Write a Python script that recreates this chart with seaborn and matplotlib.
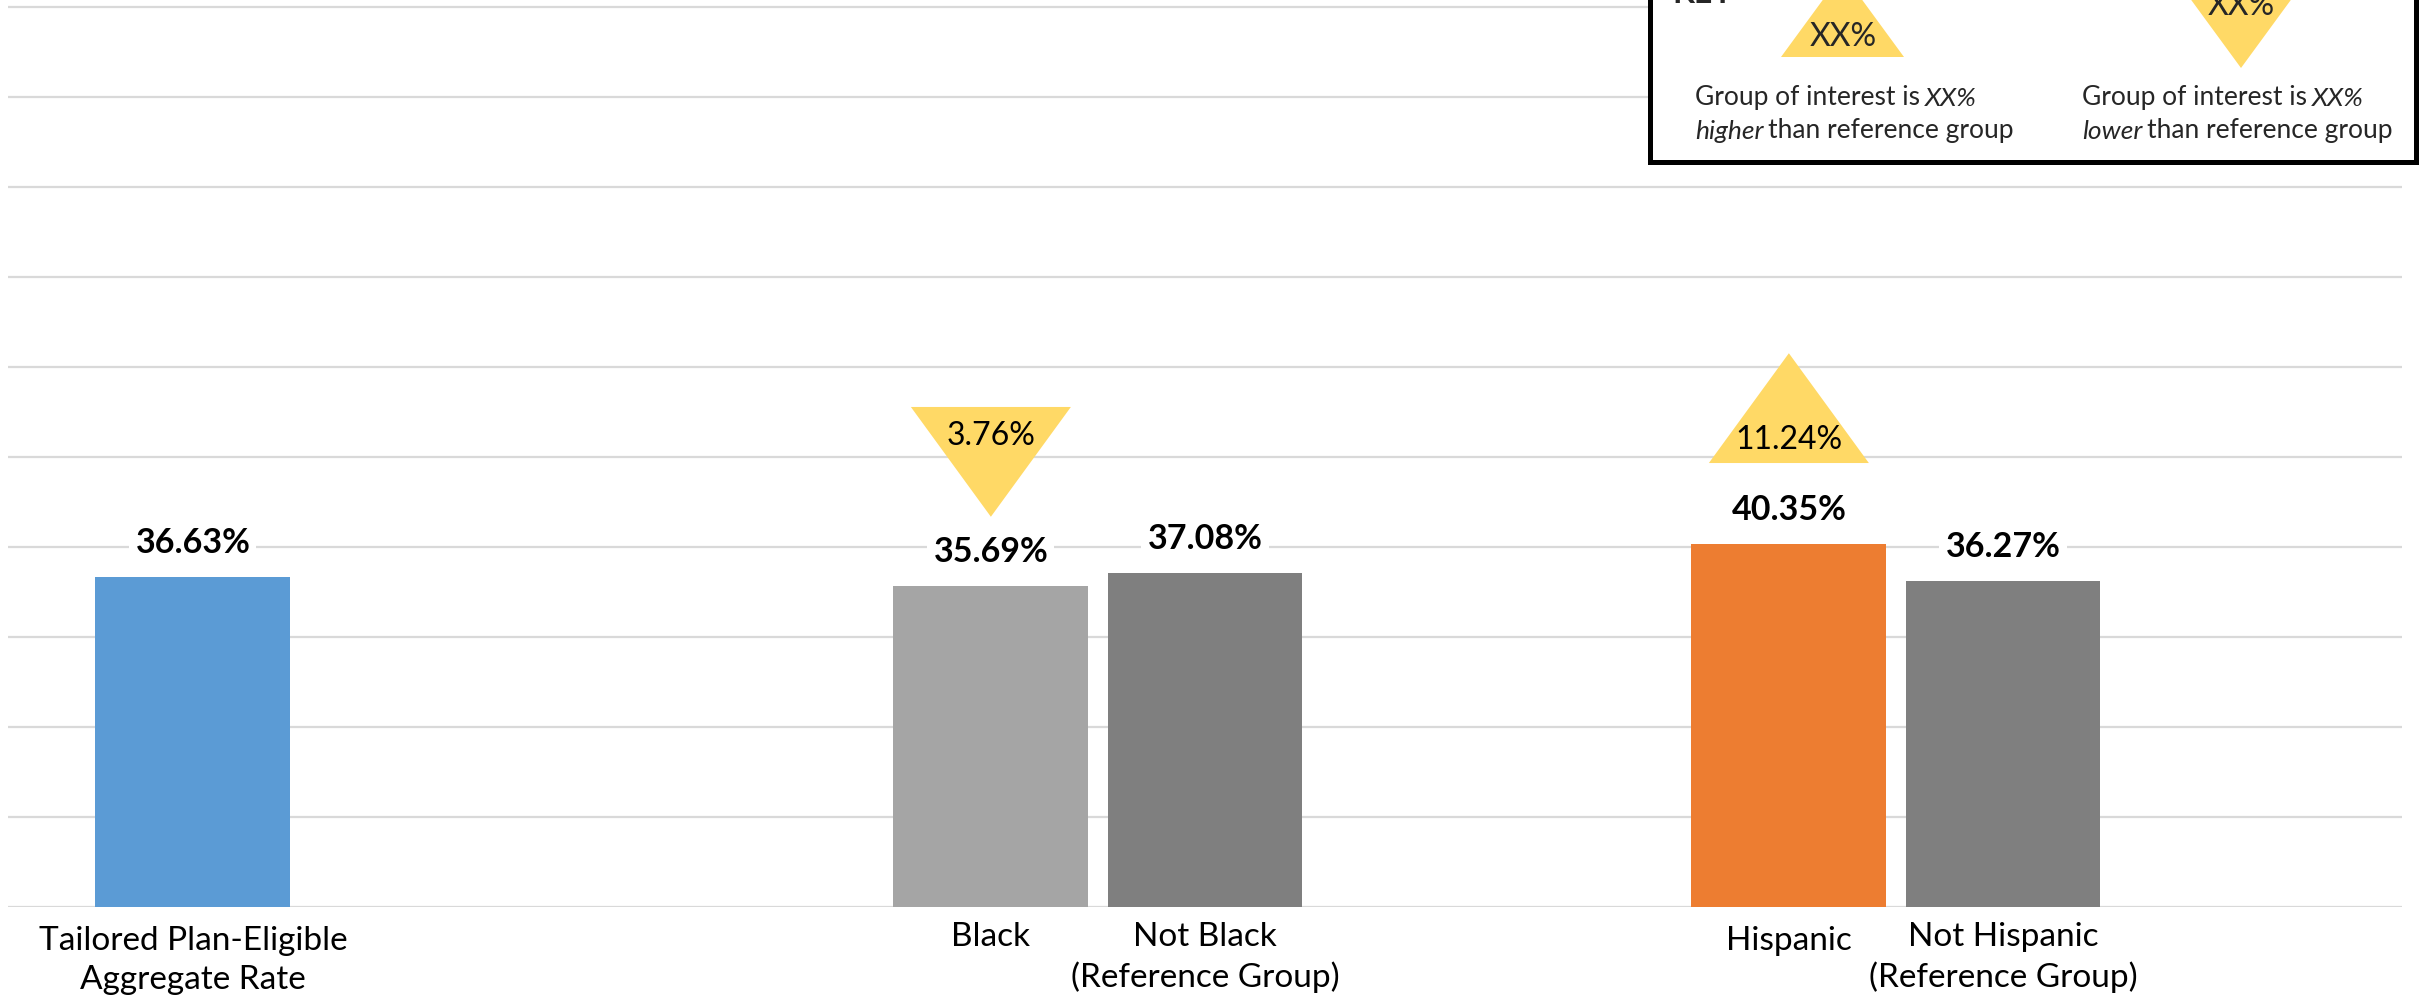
import matplotlib
matplotlib.use("Agg")
import matplotlib.pyplot as plt
import seaborn as sns
import pandas as pd
from matplotlib.patches import Polygon, Rectangle

# ---------------- data ----------------
groups = ["Aggregate", "Race", "Race", "Ethnicity", "Ethnicity"]
roles = ["Group of interest", "Group of interest", "Reference group",
         "Group of interest", "Reference group"]
bar_labels = ["Tailored Plan-Eligible\nAggregate Rate", "Black",
              "Not Black\n(Reference Group)", "Hispanic",
              "Not Hispanic\n(Reference Group)"]
rates = [36.63, 35.69, 37.08, 40.35, 36.27]
bar_colors = ["#5B9BD5", "#A5A5A5", "#7F7F7F", "#ED7D31", "#7F7F7F"]

badge_bars = ["Black", "Hispanic"]
badge_texts = ["3.76%", "11.24%"]
badge_dirs = ["lower", "higher"]

group_order = ["Aggregate", "Race", "Ethnicity"]
role_order = ["Group of interest", "Reference group", "Spacer"]

# ---------------- layout ----------------
W, H, DPI = 2427, 1001, 100
PX = 72.0 / DPI
badge_edge_y = {"Black": 55.56, "Hispanic": 49.33}   # flat edge of triangle
badge_text_y = {"Black": 52.3, "Hispanic": 51.9}
label_top_px = {"Tailored Plan-Eligible\nAggregate Rate": 19, "Black": 15,
                "Not Black\n(Reference Group)": 15, "Hispanic": 19,
                "Not Hispanic\n(Reference Group)": 15}
TRI_W = 0.2005       # category units
TRI_H = 12.2         # percent units
YELLOW = "#FFD966"

sns.set_theme(style="white")
plt.rcParams["font.family"] = ["Lato", "DejaVu Sans"]

df = pd.DataFrame({"group": groups, "role": roles, "rate": rates, "label": bar_labels})

fig = plt.figure(figsize=(W / DPI, H / DPI), dpi=DPI)
ax = fig.add_axes([8 / W, 1 - 907 / H, (2402 - 8) / W, (907 - 2) / H])

sns.barplot(data=df, x="group", y="rate", hue="role", order=group_order,
            hue_order=role_order,
            palette={"Group of interest": "#5B9BD5", "Reference group": "#7F7F7F", "Spacer": "white"},
            width=0.805, gap=0.09, errorbar=None, saturation=1, legend=False, ax=ax)

ax.set_xlim(-0.5, 2.5)
ax.set_ylim(0, 905 / 9.0)
ax.set_yticks(range(0, 101, 10))
ax.yaxis.grid(True, color="#D9D9D9", linewidth=1.6)
ax.xaxis.grid(False)
ax.set_axisbelow(True)
for s in ax.spines.values():
    s.set_visible(False)
ax.tick_params(left=False, bottom=False, labelleft=False, labelbottom=False)
ax.set_xlabel("")
ax.set_ylabel("")

centers = {}
for p in ax.patches:
    h = p.get_height()
    for i, r in enumerate(rates):
        if abs(h - r) < 1e-6:
            p.set_facecolor(bar_colors[i])
            p.set_edgecolor("none")
            cx = p.get_x() + p.get_width() / 2
            centers[bar_labels[i]] = cx
            ax.annotate(f"{r:.2f}%", xy=(cx, r), xytext=(0, 34 * PX),
                        textcoords="offset points", ha="center", va="center",
                        fontsize=24.5, fontweight="bold", color="black", zorder=4,
                        bbox=dict(boxstyle="square,pad=0.18", fc="white", ec="none"))
            ax.annotate(bar_labels[i], xy=(cx, 0),
                        xytext=(0, -label_top_px[bar_labels[i]] * PX),
                        textcoords="offset points", ha="center", va="top",
                        fontsize=24, color="black", linespacing=1.36,
                        annotation_clip=False)

for name, txt, d in zip(badge_bars, badge_texts, badge_dirs):
    cx = centers[name]
    ye = badge_edge_y[name]
    apex = ye - TRI_H if d == "lower" else ye + TRI_H
    tri = Polygon([(cx - TRI_W / 2, ye), (cx + TRI_W / 2, ye), (cx, apex)],
                  closed=True, facecolor=YELLOW, edgecolor="none", zorder=5)
    ax.add_patch(tri)
    ax.text(cx, badge_text_y[name], txt, ha="center", va="center",
            fontsize=23, color="black", zorder=6)

# ---------------- key ----------------
kax = fig.add_axes([0, 0, 1, 1], zorder=10)
kax.set_xlim(0, W)
kax.set_ylim(H, 0)
kax.axis("off")
kax.patch.set_alpha(0)

kax.add_patch(Rectangle((1650, -40), 2416 - 1650, 162 + 40, facecolor="white",
                        edgecolor="black", linewidth=5 * PX, zorder=1))
kax.text(1672, 3, "KEY", ha="left", va="baseline", fontsize=23, fontweight="bold", zorder=3)

tw, th = 123, 84
kax.add_patch(Polygon([(1842.5 - tw / 2, 57), (1842.5 + tw / 2, 57), (1842.5, 57 - th)],
                      closed=True, facecolor=YELLOW, edgecolor="none", zorder=2))
kax.text(1843, 37, "XX%", ha="center", va="center", fontsize=23, zorder=3)
kax.add_patch(Polygon([(2241 - tw / 2, 68 - th), (2241 + tw / 2, 68 - th), (2241, 68)],
                      closed=True, facecolor=YELLOW, edgecolor="none", zorder=2))
kax.text(2241, 6, "XX%", ha="center", va="center", fontsize=23, zorder=3)

KFS = 19
SP = 5
def key_line(x, y, pieces):
    prev = None
    for txt, italic in pieces:
        st = "italic" if italic else "normal"
        if prev is None:
            prev = kax.text(x, y, txt, ha="left", va="baseline", fontsize=KFS, style=st, zorder=3)
        else:
            prev = kax.annotate(txt, xy=(1, 0), xycoords=prev, xytext=(SP, 0),
                                textcoords="offset pixels", ha="left", va="bottom",
                                fontsize=KFS, style=st, zorder=3)

key_line(1695, 105, [("Group of interest is", False), ("XX%", True)])
key_line(1695, 139, [("higher", True), ("than reference group", False)])
key_line(2082, 105, [("Group of interest is", False), ("XX%", True)])
key_line(2082, 139, [("lower", True), ("than reference group", False)])

fig.savefig("out.png", dpi=DPI)
